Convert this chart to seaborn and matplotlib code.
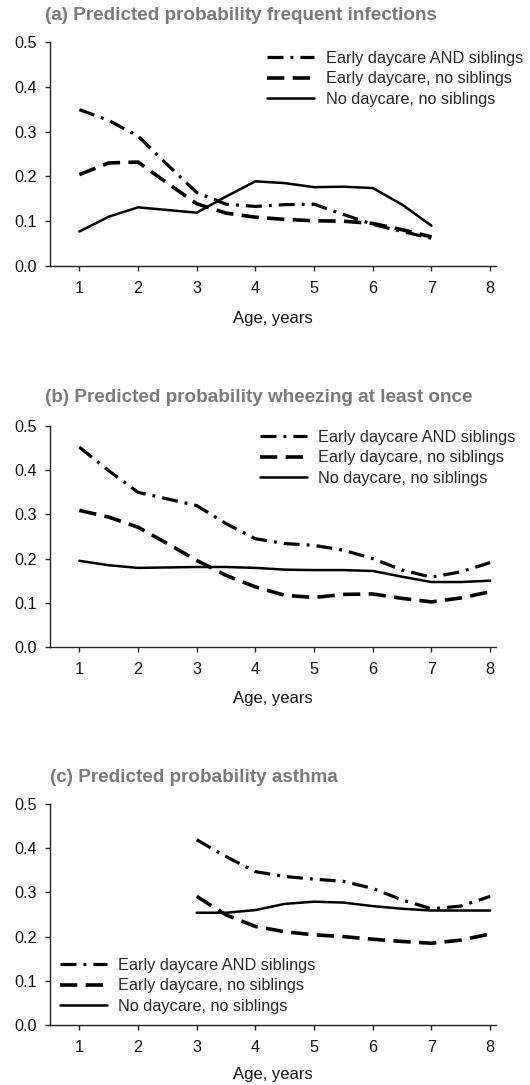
import numpy as np
import pandas as pd
import matplotlib
matplotlib.use("Agg")
import matplotlib.pyplot as plt
import seaborn as sns

sns.set_theme(style="ticks")
plt.rcParams["font.family"] = ["Liberation Sans", "DejaVu Sans"]

labels = ["Early daycare AND siblings", "Early daycare, no siblings", "No daycare, no siblings"]
titles = ["(a) Predicted probability frequent infections",
          "(b) Predicted probability wheezing at least once",
          "(c) Predicted probability asthma"]
x_ticks = [1, 2, 3, 4, 5, 6, 7, 8]
y_ticks = [0.0, 0.1, 0.2, 0.3, 0.4, 0.5]

# (a) frequent infections, ages 1-7
age_a = [1, 1.5, 2, 2.5, 3, 3.5, 4, 4.5, 5, 5.5, 6, 6.5, 7]
a_both = [0.349, 0.325, 0.290, 0.226, 0.164, 0.138, 0.133, 0.137, 0.138, 0.115, 0.093, 0.077, 0.062]
a_day = [0.204, 0.230, 0.232, 0.185, 0.139, 0.118, 0.109, 0.104, 0.101, 0.100, 0.095, 0.081, 0.065]
a_none = [0.077, 0.110, 0.131, 0.125, 0.119, 0.155, 0.189, 0.185, 0.176, 0.177, 0.174, 0.137, 0.090]

# (b) wheezing, ages 1-8
age_b = [1, 1.5, 2, 2.5, 3, 3.5, 4, 4.5, 5, 5.5, 6, 6.5, 7, 7.5, 8]
b_both = [0.452, 0.399, 0.350, 0.335, 0.320, 0.279, 0.245, 0.234, 0.230, 0.219, 0.200, 0.174, 0.158, 0.170, 0.191]
b_day = [0.309, 0.294, 0.271, 0.234, 0.196, 0.162, 0.136, 0.117, 0.112, 0.119, 0.120, 0.110, 0.102, 0.111, 0.125]
b_none = [0.195, 0.185, 0.179, 0.180, 0.181, 0.181, 0.179, 0.175, 0.174, 0.174, 0.172, 0.159, 0.147, 0.147, 0.150]

# (c) asthma, ages 3-8
age_c = [3, 3.5, 4, 4.5, 5, 5.5, 6, 6.5, 7, 7.5, 8]
c_both = [0.419, 0.381, 0.347, 0.336, 0.330, 0.325, 0.309, 0.283, 0.263, 0.269, 0.291]
c_day = [0.291, 0.249, 0.223, 0.211, 0.204, 0.200, 0.194, 0.189, 0.185, 0.192, 0.206]
c_none = [0.254, 0.254, 0.260, 0.274, 0.279, 0.277, 0.269, 0.263, 0.259, 0.259, 0.259]

panels = [
    (age_a, [a_both, a_day, a_none]),
    (age_b, [b_both, b_day, b_none]),
    (age_c, [c_both, c_day, c_none]),
]

styles = [
    dict(linewidth=2.3, linestyle=(0, (5.0, 2.2, 0.9, 2.2))),
    dict(linewidth=2.6, linestyle=(0, (4.8, 2.3))),
    dict(linewidth=1.8, linestyle="-"),
]

W, H = 530, 1085
fig = plt.figure(figsize=(W / 100, H / 100), dpi=100)

# axes boxes in pixel coords: (left, top, right, bottom)
boxes = [(50, 42, 496, 266), (50, 426, 496, 647), (50, 804, 496, 1025)]
title_pos = [(45, 16), (45, 397), (50, 777)]
legend_pos = [(267, 51), (260, 430), (60, 958)]
xlabel_y = [318, 699, 1075]

FS = 11.7
GRAY = "#7a7a7a"
for i, ((ages, series), box) in enumerate(zip(panels, boxes)):
    l, t, r, b = box
    ax = fig.add_axes([l / W, 1 - b / H, (r - l) / W, (b - t) / H])
    for lab, vals, st in zip(labels, series, styles):
        df = pd.DataFrame({"age": ages, "p": vals})
        sns.lineplot(data=df, x="age", y="p", ax=ax, color="black", label=lab,
                     legend=False, **st)
    ax.set_xlim(0.5, 8.1)
    ax.set_ylim(0, 0.5)
    ax.set_xticks(x_ticks)
    ax.set_xticklabels([str(v) for v in x_ticks])
    ax.set_yticks(y_ticks)
    ax.set_yticklabels([f"{v:.1f}" for v in y_ticks])
    ax.set_xlabel("")
    ax.set_ylabel("")
    for s in ["top", "right"]:
        ax.spines[s].set_visible(False)
    for s in ["left", "bottom"]:
        ax.spines[s].set_color("#222222")
        ax.spines[s].set_linewidth(1.0)
    ax.tick_params(axis="both", direction="out", length=3.6, width=1.0,
                   color="#222222", labelsize=FS, labelcolor="#111111", pad=6)
    ax.tick_params(axis="x", pad=7)
    ax.patch.set_alpha(0)

    tx, ty = title_pos[i]
    fig.text(tx / W, 1 - ty / H, titles[i], fontsize=13.6, fontweight="bold",
             color=GRAY, ha="left", va="center")
    fig.text(((l + r) / 2) / W, 1 - xlabel_y[i] / H, "Age, years", fontsize=12,
             color="#111111", ha="center", va="center")

    lx, ly = legend_pos[i]
    handles, labs = ax.get_legend_handles_labels()
    fig.legend(handles, labs, loc="upper left",
               bbox_to_anchor=(lx / W, 1 - ly / H), bbox_transform=fig.transFigure,
               frameon=False, fontsize=FS, handlelength=2.9, handletextpad=0.7,
               labelspacing=0.33, borderpad=0, borderaxespad=0)

fig.savefig("out.png", dpi=100)
